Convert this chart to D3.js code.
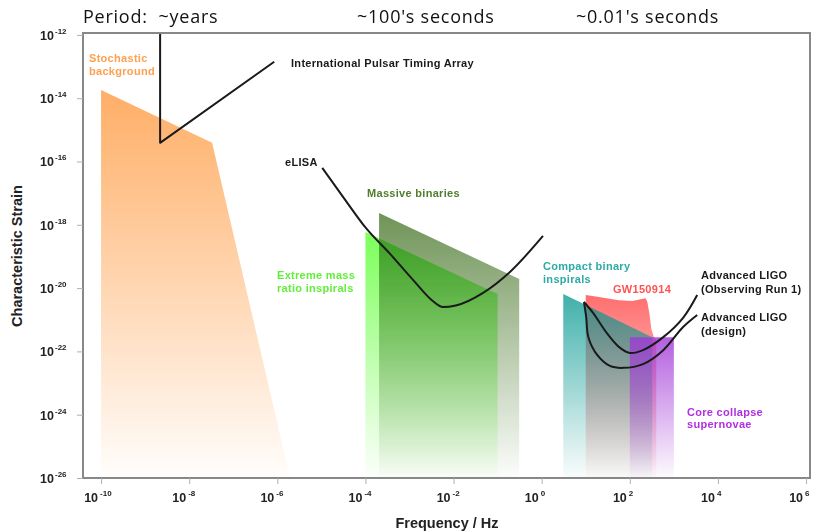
<!DOCTYPE html>
<html>
<head>
<meta charset="utf-8">
<script src="https://cdn.jsdelivr.net/npm/d3@7"></script>
<style>
  html, body { margin: 0; padding: 0; background: #fff; }
  svg { display: block; }
  .lbl { font-family: "Liberation Sans", Arial, Helvetica, sans-serif; font-weight: bold; }
  .note { letter-spacing: 0.3px; }
  .period { font-family: "Open Sans", "Noto Sans", sans-serif; font-size: 18px; letter-spacing: 0.75px; fill: #111; white-space: pre; }
</style>
</head>
<body>
<svg id="chart" width="813" height="531"></svg>
<script>
// All values are log10(frequency / Hz), log10(characteristic strain)
const xTickExps = [-10, -8, -6, -4, -2, 0, 2, 4, 6];
const yTickExps = [-12, -14, -16, -18, -20, -22, -24, -26];

const stochasticBg = [[-10, -13.74], [-7.48, -15.41], [-5.71, -26], [-10, -26]];
const massiveBinaries = [[-3.69, -17.63], [-0.51, -19.71], [-0.51, -26], [-3.69, -26]];
const emri = [[-4.0, -18.23], [-1.0, -20.19], [-1.0, -26], [-4.0, -26]];
const compactBinaries = [[0.49, -20.19], [2.51, -21.55], [2.51, -26], [0.49, -26]];
const gw150914 = [
  [1.0, -20.22], [1.3, -20.28], [1.75, -20.38], [2.06, -20.41], [2.24, -20.35],
  [2.36, -20.32], [2.4, -20.45], [2.45, -20.85], [2.49, -21.3], [2.56, -21.6],
  [2.6, -21.62], [2.6, -26], [1.0, -26]
];
const supernovae = [[2.0, -21.55], [3.0, -21.55], [3.0, -26], [2.0, -26]];

const iptaCurve = [[-8.66, -11.9], [-8.66, -15.41], [-6.07, -12.85]];
const elisaCurve = [
  [-4.98, -16.2], [-4.46, -17.21], [-3.99, -18.1], [-3.44, -18.92], [-2.92, -19.74],
  [-2.47, -20.41], [-2.24, -20.6], [-1.95, -20.55], [-1.33, -20.15], [-0.72, -19.49],
  [0.03, -18.35]
];
const ligoO1Curve = [
  [0.96, -20.44], [1.17, -20.79], [1.48, -21.42], [1.78, -21.89], [2.01, -22.05],
  [2.3, -21.96], [2.76, -21.55], [3.21, -20.94], [3.53, -20.22]
];
const ligoDesignCurve = [
  [0.96, -20.44], [1.01, -20.91], [1.06, -21.55], [1.26, -22.11], [1.55, -22.46],
  [1.85, -22.52], [2.3, -22.4], [2.76, -21.96], [3.21, -21.23], [3.53, -20.85]
];

const svg = d3.select('#chart');
const plot = { left: 83, right: 810, top: 33, bottom: 478 };

const x = d3.scaleLog()
  .domain([10 ** -10.41, 10 ** 6.09])
  .range([plot.left, plot.right]);
const y = d3.scaleLog()
  .domain([1e-26, 10 ** -11.94])
  .range([plot.bottom, plot.top]);

const px = (d) => x(10 ** d[0]);
const py = (d) => y(10 ** d[1]);

const defs = svg.append('defs');
defs.append('clipPath').attr('id', 'plot-clip')
  .append('rect')
  .attr('x', plot.left).attr('y', plot.top)
  .attr('width', plot.right - plot.left)
  .attr('height', plot.bottom - plot.top);

// vertical fade gradients for each source region
function fade(id, color, topOpacity) {
  const g = defs.append('linearGradient')
    .attr('id', id)
    .attr('x1', 0).attr('x2', 0).attr('y1', 0).attr('y2', 1);
  g.append('stop').attr('offset', '0%')
    .attr('stop-color', color).attr('stop-opacity', topOpacity);
  g.append('stop').attr('offset', '100%')
    .attr('stop-color', color).attr('stop-opacity', 0.02);
}
fade('g-stoch', '#ffae66', 1);
fade('g-massive', '#6f9457', 1);
fade('g-emri', '#7cff5a', 1);
fade('g-gw', '#ff6e6e', 1);
fade('g-compact', '#00968f', 0.75);
fade('g-sn', '#a037d7', 0.8);

const regions = svg.append('g').attr('clip-path', 'url(#plot-clip)');
const area = d3.line().x(px).y(py);

[
  [stochasticBg, 'g-stoch', 'normal'],
  [massiveBinaries, 'g-massive', 'multiply'],
  [emri, 'g-emri', 'multiply'],
  [gw150914, 'g-gw', 'normal'],
  [compactBinaries, 'g-compact', 'normal'],
  [supernovae, 'g-sn', 'normal'],
].forEach(([pts, grad, blend]) => {
  regions.append('path')
    .datum(pts)
    .attr('d', (d) => area(d) + 'Z')
    .attr('fill', `url(#${grad})`)
    .style('mix-blend-mode', blend);
});

// sensitivity curves
const curves = svg.append('g').attr('clip-path', 'url(#plot-clip)');
const straight = d3.line().x(px).y(py);
const smooth = d3.line().x(px).y(py).curve(d3.curveMonotoneX);
const smoothU = d3.line().x(px).y(py).curve(d3.curveCatmullRom.alpha(0.5));

curves.append('path').datum(iptaCurve).attr('d', straight);
curves.append('path').datum(elisaCurve).attr('d', smooth);
curves.append('path').datum(ligoO1Curve).attr('d', smoothU);
curves.append('path').datum(ligoDesignCurve).attr('d', smoothU);
curves.selectAll('path')
  .attr('fill', 'none')
  .attr('stroke', '#1a1a1a')
  .attr('stroke-width', 2)
  .attr('stroke-linejoin', 'round');

// frame
svg.append('rect')
  .attr('x', plot.left).attr('y', plot.top)
  .attr('width', plot.right - plot.left)
  .attr('height', plot.bottom - plot.top)
  .attr('fill', 'none')
  .attr('stroke', '#888')
  .attr('stroke-width', 2);

// axes (ticks only, labels drawn with superscripts below)
const xAxis = svg.append('g')
  .attr('transform', `translate(0,${plot.bottom})`)
  .call(d3.axisBottom(x).tickValues(xTickExps.map((e) => 10 ** e)).tickSize(6).tickFormat(''));
const yAxis = svg.append('g')
  .attr('transform', `translate(${plot.left},0)`)
  .call(d3.axisLeft(y).tickValues(yTickExps.map((e) => 10 ** e)).tickSize(6).tickFormat(''));
[xAxis, yAxis].forEach((a) => {
  a.select('.domain').remove();
  a.selectAll('line').attr('stroke', '#b0b0b0').attr('stroke-width', 1);
});

xTickExps.forEach((e) => {
  const tx = x(10 ** e);
  svg.append('text').attr('class', 'lbl')
    .attr('x', tx - 3).attr('y', 502)
    .attr('text-anchor', 'end')
    .attr('font-size', 12.5).attr('fill', '#222')
    .text('10');
  svg.append('text').attr('class', 'lbl')
    .attr('x', tx - 1).attr('y', 496)
    .attr('font-size', 8).attr('fill', '#222')
    .text(String(e));
});

yTickExps.forEach((e) => {
  const ty = y(10 ** e);
  svg.append('text').attr('class', 'lbl')
    .attr('x', 40).attr('y', ty + 5)
    .attr('font-size', 12.5).attr('fill', '#222')
    .text('10');
  svg.append('text').attr('class', 'lbl')
    .attr('x', 55).attr('y', ty - 1)
    .attr('font-size', 8).attr('fill', '#222')
    .text(String(e));
});

// axis titles
svg.append('text').attr('class', 'lbl')
  .attr('x', 447).attr('y', 528)
  .attr('text-anchor', 'middle')
  .attr('font-size', 14.5).attr('fill', '#222')
  .text('Frequency / Hz');
svg.append('text').attr('class', 'lbl')
  .attr('transform', 'translate(22,256) rotate(-90)')
  .attr('text-anchor', 'middle')
  .attr('font-size', 14.5).attr('fill', '#222')
  .text('Characteristic Strain');

// period headings
svg.append('text').attr('class', 'period').attr('x', 83).attr('y', 23).text('Period:  ~years');
svg.append('text').attr('class', 'period').attr('x', 357).attr('y', 23).text("~100's seconds");
svg.append('text').attr('class', 'period').attr('x', 576).attr('y', 23).text("~0.01's seconds");

// region and curve annotations
const notes = [
  { lines: ['Stochastic', 'background'], x: 89, y: 62, color: '#ffa04f', gap: 13 },
  { lines: ['International Pulsar Timing Array'], x: 291, y: 67, color: '#1a1a1a' },
  { lines: ['eLISA'], x: 285, y: 166, color: '#1a1a1a' },
  { lines: ['Massive binaries'], x: 367, y: 197, color: '#4e7d2b' },
  { lines: ['Extreme mass', 'ratio inspirals'], x: 277, y: 279, color: '#62ee3a', gap: 13 },
  { lines: ['Compact binary', 'inspirals'], x: 543, y: 270, color: '#2eaaa8', gap: 13 },
  { lines: ['GW150914'], x: 613, y: 293, color: '#ff5252' },
  { lines: ['Advanced LIGO', '(Observing Run 1)'], x: 701, y: 279, color: '#1a1a1a', gap: 13.5 },
  { lines: ['Advanced LIGO', '(design)'], x: 701, y: 321, color: '#1a1a1a', gap: 13.5 },
  { lines: ['Core collapse', 'supernovae'], x: 687, y: 416, color: '#b02fe0', gap: 12 },
];
notes.forEach((n) => {
  const t = svg.append('text').attr('class', 'lbl note')
    .attr('x', n.x).attr('y', n.y)
    .attr('font-size', 11)
    .attr('fill', n.color);
  n.lines.forEach((s, i) => {
    t.append('tspan').attr('x', n.x).attr('dy', i === 0 ? 0 : n.gap).text(s);
  });
});
</script>
</body>
</html>
